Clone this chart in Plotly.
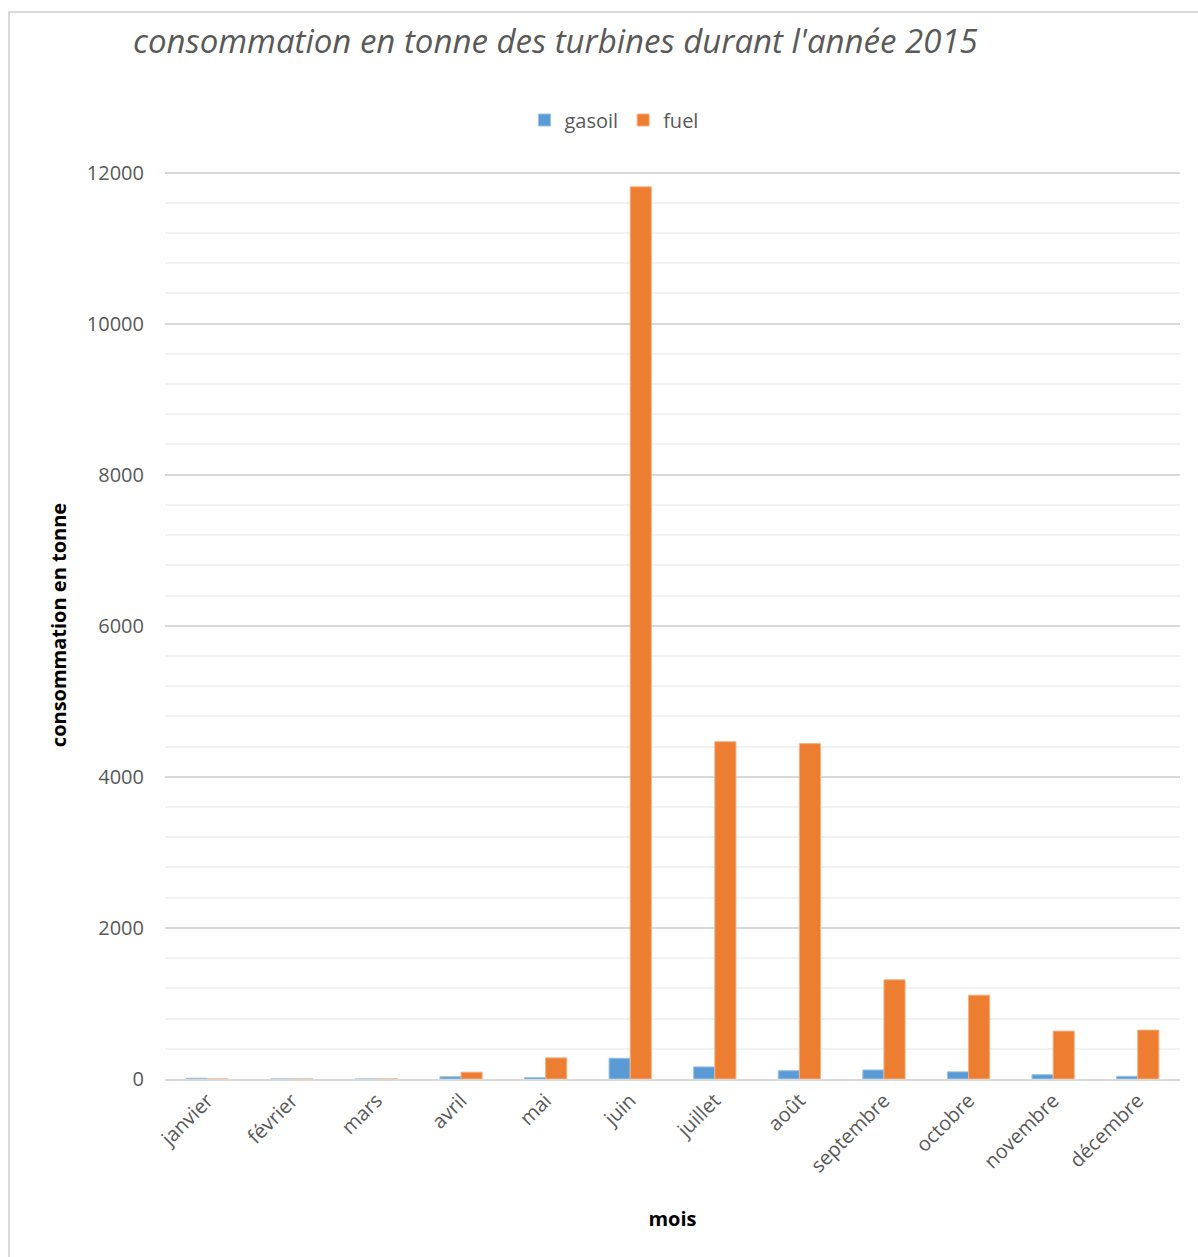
import plotly.graph_objects as go

mois = ["janvier", "février", "mars", "avril", "mai", "juin", "juillet", "août",
        "septembre", "octobre", "novembre", "décembre"]
gasoil = [10, 0, 0, 30, 20, 275, 160, 110, 120, 95, 57, 36]
fuel = [0, 0, 0, 90, 280, 11810, 4465, 4440, 1313, 1110, 634, 648]

W, H = 1198, 1257
ml, mr, mt, mb = 165, 18, 171, 178
pw, ph = W - ml - mr, H - mt - mb

fig = go.Figure()
fig.add_trace(go.Bar(name="gasoil", x=mois, y=gasoil, marker_color="#5B9BD5",
                     marker_line=dict(color="#9DC3E6", width=1)))
fig.add_trace(go.Bar(name="fuel", x=mois, y=fuel, marker_color="#ED7D31",
                     marker_line=dict(color="#F4B183", width=1)))

fig.update_layout(
    width=W, height=H,
    margin=dict(l=ml, r=mr, t=mt, b=mb),
    paper_bgcolor="white", plot_bgcolor="white",
    barmode="group", bargap=0.5, bargroupgap=0,
    font=dict(family="Open Sans", color="#595959"),
    title=dict(text="consommation en tonne des turbines durant l'année 2015",
               font=dict(size=33, color="#595959", family="Open Sans", style="italic"),
               x=133 / W, xanchor="left", xref="container",
               y=1 - 41 / H, yanchor="middle", yref="container"),
    legend=dict(orientation="h", x=(614 - ml) / pw, xanchor="center",
                y=1 + (171 - 120) / ph, yanchor="middle",
                font=dict(size=20, color="#595959"), itemwidth=30,
                bgcolor="rgba(0,0,0,0)"),
    showlegend=True,
)

fig.update_xaxes(
    tickangle=-45, tickfont=dict(size=20, color="#595959"),
    showline=True, linecolor="#D9D9D9", linewidth=2,
    title=dict(text="<b>mois</b>", font=dict(size=20, color="black"), standoff=35),
    showgrid=False,
)
fig.update_yaxes(
    range=[0, 12020], tickvals=[0, 2000, 4000, 6000, 8000, 10000, 12000],
    tickformat="d", tickfont=dict(size=20, color="#595959"),
    ticklabelstandoff=20,
    showgrid=True, gridcolor="#D9D9D9", gridwidth=2,
    minor=dict(dtick=400, showgrid=True, gridcolor="#F2F2F2", gridwidth=2),
    zeroline=False,
    title=dict(text="<b>consommation en tonne</b>", font=dict(size=20, color="black"), standoff=14),
)

fig.add_shape(type="rect", xref="paper", yref="paper",
              x0=-(ml - 9) / pw, x1=1 + (mr + 20) / pw,
              y0=-(mb + 20) / ph, y1=1 + (mt - 12) / ph,
              line=dict(color="#D9D9D9", width=2), fillcolor="rgba(0,0,0,0)", layer="below")

fig.write_html("out.html")
